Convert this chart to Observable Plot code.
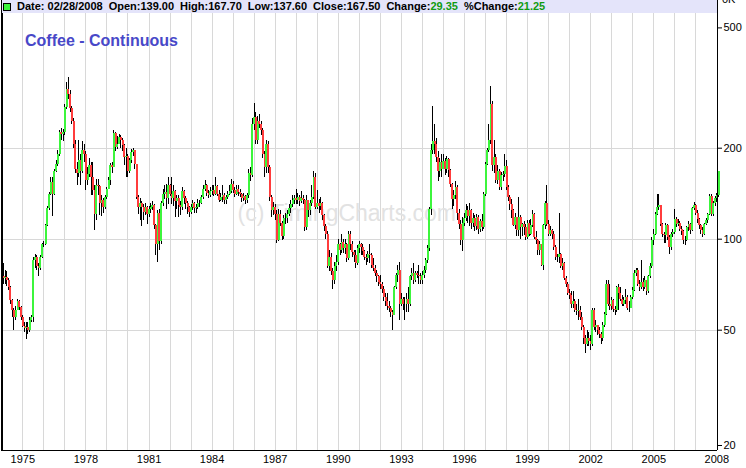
<!DOCTYPE html>
<html><head><meta charset="utf-8">
<script src="https://cdn.jsdelivr.net/npm/d3@7"></script>
<script src="https://cdn.jsdelivr.net/npm/@observablehq/plot@0.6"></script>
<style>
body{margin:0;background:#fff;}
#wrap{position:relative;width:746px;height:468px;overflow:hidden;font-family:"Liberation Sans",Arial,sans-serif;}
#chart{position:absolute;left:0;top:0;}
#hdr{position:absolute;left:2px;top:0;width:715px;height:13px;background:#e4e4fa;}
#fields{position:absolute;left:15px;top:0;line-height:13px;font-size:11px;font-weight:bold;color:#000;white-space:nowrap;}
#fields span.f{margin-right:6px;}
#fields span.g{color:#119b11;}
#sq{position:absolute;left:1px;top:3px;width:6px;height:6px;background:#3cf53c;border:1px solid #000;}
#title{position:absolute;left:25px;top:33px;line-height:16px;font-size:16px;font-weight:bold;color:#4848c8;}
#topk{position:absolute;left:722px;top:-7px;line-height:13px;font-size:11px;color:#000;}
</style></head>
<body>
<div id="wrap">
  <div id="chart"></div>
  <div id="hdr">
    <div id="sq"></div>
    <div id="fields"><span class="f">Date: 02/28/2008</span><span class="f">Open:139.00</span><span class="f">High:167.70</span><span class="f">Low:137.60</span><span class="f">Close:167.50</span><span class="f">Change:<span class="g">29.35</span></span><span class="f">%Change:<span class="g">21.25</span></span></div>
  </div>
  <div id="title">Coffee - Continuous</div>
  <div id="topk">0K</div>
</div>
<script>
// Monthly candles, Jan 1974 .. Feb 2008
const startYear = 1974;
const firstOpen = 68;
const closes = [
  75, 74, 74.5, 73, 69, 62.5, 58, 55, 58, 62, 59.4, 55,            // 1974
  51.5, 50.5, 51, 50, 54, 55, 85, 87, 81, 80, 87, 96,              // 1975
  96, 111, 126, 141, 154, 141, 168, 177, 191, 225, 222, 226,       // 1976
  273, 313, 302, 270, 245, 206, 170, 165, 182, 168, 196, 191,      // 1977
  156, 164, 175, 160, 145, 121, 151, 149, 131, 134, 127, 137,      // 1978
  146, 156, 175, 172, 223, 201, 206, 217, 212, 204, 186, 188,      // 1979
  168, 182, 194, 196, 177, 137, 127, 131, 127, 123, 127, 121,      // 1980
  125, 127, 129, 111, 96, 122, 98, 131, 141, 143, 136, 150,        // 1981
  141, 136, 144, 133, 136, 129, 127, 144, 136, 131, 127, 123,      // 1982
  127, 131, 126, 127, 131, 131, 137, 146, 150, 142, 139, 144,      // 1983
  145, 141, 149, 141, 134, 137, 139, 134, 137, 141, 144, 152,      // 1984
  145, 141, 146, 143, 141, 136, 138, 134, 139, 165, 162, 240,      // 1985
  253, 212, 246, 240, 228, 191, 172, 206, 173, 137, 124, 127,      // 1986
  121, 99, 121, 113, 102, 117, 117, 121, 126, 130, 134, 136,       // 1987
  134, 137, 133, 136, 134, 109, 134, 124, 131, 137, 160, 127,      // 1988
  131, 128, 131, 120, 110, 104, 81, 87, 78, 73, 81, 84,            // 1989
  96, 91.5, 97.5, 93, 96, 86, 104, 96, 90.5, 88, 83, 93,           // 1990
  96, 94, 91, 87, 86, 89, 88, 82, 80, 77, 75, 72,                  // 1991
  71, 68, 64, 62, 60, 59, 57, 56, 69, 76, 79, 61,                  // 1992
  63, 61, 61, 63, 61, 75, 77, 73, 77, 76, 75, 73,                  // 1993
  76, 79, 85, 93, 125, 197, 211, 206, 186, 168, 180, 170,          // 1994
  181, 170, 183, 169, 152, 135, 140, 148, 122, 112, 99, 113,       // 1995
  117, 124, 119, 124, 113, 117, 110, 118, 108, 114, 109, 141,      // 1996
  177, 196, 212, 280, 175, 186, 156, 168, 148, 162, 164, 174,      // 1997
  148, 137, 130, 124, 111, 118, 107, 118, 109, 112, 109, 101,      // 1998
  113, 104, 111, 121, 101, 99, 91.5, 96, 82, 111, 131, 112,        // 1999
  104, 107, 104, 94, 87, 87, 89, 81, 83, 74, 71, 66,               // 2000
  65, 61, 62, 58, 57.5, 58, 55, 51, 47, 45, 47, 46,                // 2001
  45, 58, 51, 52, 50, 48.5, 47, 52, 56.5, 71, 61, 60,              // 2002
  62.5, 58.7, 58, 69, 66, 63, 61, 62.5, 64, 59, 59, 64,            // 2003
  67.5, 77, 78.5, 71, 69, 72, 69, 73, 67, 75, 81, 99,              // 2004
  104, 121, 127, 129, 112, 104, 103, 111, 101, 94, 104, 105,       // 2005
  116, 112, 113, 108, 106, 99, 99, 109, 112, 107, 126, 129,        // 2006
  122, 116, 111, 107, 104, 112, 115, 121, 138, 121, 131, 136,      // 2007
  139, 167.5                                                       // 2008
];
const highs = [
  80, 83, 79, 78, 74, 70, 63, 59, 60, 63, 62.5, 60,
  56, 53, 53, 53, 55, 56, 87, 89, 88, 83, 88, 97,
  98, 112, 128, 143, 160, 160, 170, 182, 196, 228, 232, 230,
  280, 330, 343, 310, 275, 250, 212, 180, 212, 190, 210, 205,
  195, 172, 185, 180, 180, 150, 158, 157, 150, 140, 136, 140,
  148, 160, 178, 180, 228, 225, 218, 222, 220, 215, 205, 200,
  190, 185, 198, 200, 196, 177, 140, 136, 133, 130, 131, 128,
  128, 131, 133, 130, 112, 124, 125, 133, 146, 150, 152, 160,
  152, 160, 150, 145, 140, 140, 133, 148, 145, 138, 133, 128,
  130, 134, 132, 130, 135, 134, 140, 150, 156, 152, 145, 148,
  150, 150, 160, 150, 145, 142, 150, 142, 140, 144, 150, 158,
  155, 148, 150, 150, 146, 142, 142, 140, 142, 170, 172, 250,
  282, 262, 255, 258, 245, 232, 195, 212, 210, 175, 140, 132,
  130, 124, 125, 124, 114, 120, 122, 124, 130, 134, 140, 140,
  146, 142, 140, 144, 139, 135, 140, 134, 134, 150, 167, 165,
  145, 135, 137, 132, 121, 112, 106, 92, 90, 80, 84, 88,
  100, 97, 104, 100, 100, 97, 106, 106, 98, 92, 92, 95,
  98, 97, 96, 92, 89, 91, 96, 90, 86, 82, 79, 76,
  76, 72, 70, 66, 66, 62, 60, 58, 70, 77, 82, 84,
  66, 64, 64, 66, 69, 76, 80, 83, 78, 78, 82, 77,
  78, 81, 86, 95, 127, 205, 275, 240, 215, 195, 185, 190,
  190, 185, 188, 185, 170, 153, 145, 155, 150, 125, 115, 118,
  122, 130, 128, 131, 125, 122, 120, 121, 120, 116, 121, 143,
  180, 200, 240, 321, 285, 212, 190, 175, 170, 166, 168, 190,
  182, 150, 140, 135, 125, 122, 114, 137, 120, 113, 114, 112,
  115, 115, 116, 124, 122, 106, 100, 98, 96, 112, 133, 150,
  115, 110, 108, 106, 95, 89, 122, 90, 86, 84, 75, 72,
  68, 67, 67, 63, 61, 63, 60, 57, 52, 48, 50, 49,
  48, 59, 59, 54, 52, 51, 49, 53, 57, 73, 73, 71,
  64, 63, 60, 70, 71, 69, 65, 64, 68, 65, 62, 65,
  69, 79, 80, 80, 73, 85, 74, 75, 72, 76, 83, 101,
  108, 123, 141, 141, 129, 113, 105, 113, 112, 103, 105, 108,
  125, 118, 116, 114, 110, 107, 102, 110, 114, 113, 127, 132,
  130, 124, 117, 112, 109, 113, 117, 122, 141, 141, 133, 138,
  142, 167.7
];
const lows = [
  66, 71, 71, 70, 67.5, 61, 55, 50, 54, 58, 58, 54,
  51, 49, 46.5, 48.5, 49, 53, 53, 80, 79, 75, 79, 86,
  94, 95, 110, 124, 139, 119, 140, 166, 174, 188, 212, 210,
  220, 268, 290, 262, 240, 200, 165, 150, 160, 150, 165, 180,
  145, 150, 160, 140, 140, 107, 115, 140, 120, 119, 122, 125,
  135, 146, 150, 165, 172, 195, 198, 205, 200, 195, 175, 160,
  160, 165, 178, 188, 170, 135, 121, 115, 110, 115, 120, 112,
  118, 122, 124, 108, 88, 84, 92, 96, 128, 135, 125, 130,
  138, 130, 128, 118, 125, 118, 120, 124, 130, 125, 121, 118,
  121, 124, 122, 122, 125, 127, 130, 135, 144, 138, 136, 137,
  140, 138, 140, 138, 132, 133, 132, 130, 130, 135, 139, 142,
  142, 137, 139, 138, 137, 132, 133, 130, 131, 136, 155, 160,
  228, 205, 205, 232, 220, 185, 160, 165, 165, 133, 118, 120,
  115, 97, 98, 110, 99, 100, 112, 113, 119, 122, 127, 130,
  130, 130, 128, 131, 130, 106, 107, 118, 120, 128, 135, 125,
  125, 122, 124, 115, 106, 100, 80, 78, 76, 68, 71, 78,
  82, 88, 90, 90, 89, 84, 85, 92, 87, 84, 80, 82,
  90, 88, 88, 85, 82, 84, 83, 80, 78, 75, 72, 70,
  68, 66, 62, 60, 58, 57, 55, 50, 56, 68, 72, 54,
  60, 58, 54, 57, 57, 60, 73, 71, 72, 74, 71, 71,
  71, 74, 77, 83, 91, 120, 190, 190, 180, 155, 160, 160,
  170, 162, 165, 160, 148, 125, 128, 135, 115, 108, 95, 91,
  110, 114, 113, 110, 108, 109, 106, 107, 104, 105, 106, 108,
  138, 175, 194, 205, 168, 165, 153, 152, 145, 145, 155, 160,
  145, 133, 124, 117, 110, 108, 102, 102, 100, 102, 103, 99,
  100, 102, 103, 109, 100, 96, 88, 88, 81, 79, 108, 110,
  102, 102, 100, 92, 85, 84, 83, 80, 79, 73, 69, 65,
  63, 59, 59, 57, 56, 54, 54, 50, 45, 42, 44, 44,
  43, 44, 50, 49, 48, 47, 45, 46, 51, 56, 60, 58,
  58, 57, 56, 57, 58, 62, 60, 60, 61, 58, 57, 59,
  63, 67, 75, 70, 67, 68, 67, 68, 65, 66, 74, 80,
  95, 103, 120, 124, 110, 101, 97, 97, 99, 89, 92, 101,
  104, 109, 110, 106, 103, 96, 95, 98, 106, 104, 106, 124,
  120, 113, 108, 104, 101, 103, 111, 113, 120, 119, 119, 128,
  132, 137.6
];
const yTickValues = [50, 100, 200, 500];
const yBottomTick = [20];
const yGridValues = [50, 100, 200];
const gridYears = d3.range(1975, 2008);
const labelYears = [1975, 1978, 1981, 1984, 1987, 1990, 1993, 1996, 1999, 2002, 2005, 2008];
const watermark = ["(c) TimingCharts.com"];

const upColor = "#3cf53c", downColor = "#ff3c3c";
const data = closes.map((c, i) => {
  const open = i === 0 ? firstOpen : closes[i - 1];
  return {
    date: new Date(Date.UTC(startYear, i, 1)),
    open, close: c,
    high: Math.max(highs[i], open, c),
    low: Math.min(lows[i], open, c)
  };
});
const yr = y => new Date(Date.UTC(y, 0, 1));
const xStart = new Date(Date.UTC(1973, 11, 27));
const xEnd = new Date(Date.UTC(2008, 0, 13));

const chart = Plot.plot({
  width: 746, height: 468,
  marginLeft: 1, marginRight: 29, marginTop: 0, marginBottom: 18,
  style: {fontFamily: "'Liberation Sans', Arial, sans-serif", fontSize: "11px", color: "#000", background: "white"},
  x: {type: "utc", domain: [xStart, xEnd], axis: null},
  y: {type: "log", domain: [20, 616], axis: null},
  marks: [
    Plot.ruleX(gridYears.map(yr), {stroke: "#d8d8d8", strokeWidth: 1, shapeRendering: "crispEdges"}),
    Plot.ruleY(yGridValues, {stroke: "#d8d8d8", strokeWidth: 1, shapeRendering: "crispEdges"}),
    Plot.text(watermark, {frameAnchor: "top-left", dx: 236, dy: 220, textAnchor: "start", lineAnchor: "bottom", fontSize: 23, fill: "#e2e2e2"}),
    Plot.ruleX(data, {x: "date", y1: "low", y2: "high", stroke: "black", strokeWidth: 1, shapeRendering: "crispEdges"}),
    Plot.ruleX(data, {x: "date", y1: "open", y2: "close", stroke: d => d.close >= d.open ? upColor : downColor, strokeWidth: 2, shapeRendering: "crispEdges"}),
    Plot.ruleX([xStart], {stroke: "black", strokeWidth: 2, shapeRendering: "crispEdges"}),
    Plot.ruleX([xEnd], {stroke: "black", strokeWidth: 1, shapeRendering: "crispEdges"}),
    Plot.ruleY([20], {stroke: "black", strokeWidth: 1, shapeRendering: "crispEdges"}),
    Plot.axisY(yTickValues, {anchor: "right", tickSize: 4, tickPadding: 2, fontSize: 11, label: null, tickFormat: d => String(d)}),
    Plot.axisY(yBottomTick, {anchor: "right", tickSize: 4, tickPadding: 2, fontSize: 11, label: null, dy: -5, tickFormat: d => String(d)}),
    Plot.axisX(labelYears.map(yr), {anchor: "bottom", tickSize: 0, tickPadding: 5, fontSize: 11, label: null, tickFormat: d => String(d.getUTCFullYear())})
  ]
});
document.getElementById("chart").appendChild(chart);
</script>
</body></html>
